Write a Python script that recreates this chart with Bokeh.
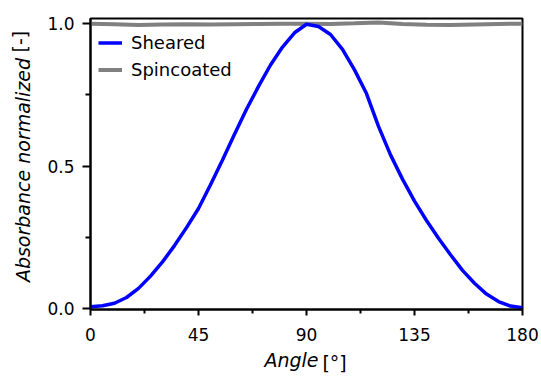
from bokeh.plotting import figure
from bokeh.models import (Range1d, Legend, LegendItem, LinearAxis, FixedTicker, ColumnDataSource,
                          CustomJSTickFormatter)
from bokeh.embed import file_html
from bokeh.resources import INLINE

# Normalized absorbance vs. polarizer angle
angle_sheared = [0, 5, 10, 15, 20, 25, 30, 35, 40, 45, 50, 55, 60, 65, 70, 75, 80, 85, 90,
                 95, 100, 105, 110, 115, 120, 125, 130, 135, 140, 145, 150, 155, 160, 165,
                 170, 175, 180]
absorb_sheared = [0.008, 0.011, 0.020, 0.040, 0.072, 0.115, 0.165, 0.222, 0.285, 0.352,
                  0.435, 0.522, 0.612, 0.700, 0.780, 0.855, 0.918, 0.968, 0.998,
                  0.990, 0.962, 0.910, 0.838, 0.755, 0.640, 0.540, 0.455, 0.378, 0.310,
                  0.248, 0.190, 0.135, 0.090, 0.052, 0.026, 0.010, 0.004]

angle_spin = [0, 10, 20, 30, 40, 50, 60, 70, 80, 90, 100, 110, 120, 130, 140, 150, 160, 170, 180]
absorb_spin = [1.000, 0.998, 0.995, 0.997, 0.998, 0.997, 0.998, 0.999, 1.000, 1.000,
               0.999, 1.001, 1.004, 0.999, 0.996, 0.995, 0.997, 0.999, 1.000]

x_ticks = [0, 45, 90, 135, 180]
y_ticks = [0.0, 0.5, 1.0]

FONT = "DejaVu Sans"

p = figure(width=541, height=376, output_backend="svg", toolbar_location=None,
           x_range=Range1d(0, 180), y_range=Range1d(-0.002, 1.018),
           min_border_left=90, min_border_right=19, min_border_top=18, min_border_bottom=66)
p.background_fill_color = "white"
p.border_fill_color = "white"
p.outline_line_color = "black"
p.outline_line_width = 2
p.xgrid.visible = False
p.ygrid.visible = False

src_spin = ColumnDataSource(dict(x=angle_spin, y=absorb_spin))
src_shear = ColumnDataSource(dict(x=angle_sheared, y=absorb_sheared))
r_spin = p.line("x", "y", source=src_spin, line_color="#808080", line_width=4)
r_shear = p.line("x", "y", source=src_shear, line_color="#0000ff", line_width=3.5)

# axes
for ax in (p.xaxis[0], p.yaxis[0]):
    ax.axis_line_color = "black"
    ax.axis_line_width = 2
    ax.major_tick_line_color = "black"
    ax.major_tick_line_width = 2
    ax.minor_tick_line_color = "black"
    ax.minor_tick_line_width = 2
    ax.major_tick_in = 0
    ax.minor_tick_in = 0
    ax.major_label_text_font = FONT
    ax.major_label_text_font_size = "17px"
    ax.major_label_text_color = "black"

p.xaxis.ticker = FixedTicker(ticks=x_ticks, minor_ticks=[22.5, 67.5, 112.5, 157.5])
p.xaxis.major_tick_out = 6
p.xaxis.minor_tick_out = 4
p.xaxis.major_label_standoff = 12

p.yaxis.ticker = FixedTicker(ticks=y_ticks, minor_ticks=[0.25, 0.75])
p.yaxis.major_tick_out = 8
p.yaxis.minor_tick_out = 5
p.yaxis.major_label_standoff = 8
p.yaxis.formatter = CustomJSTickFormatter(code="return tick.toFixed(1);")


# Axis titles: an italic quantity followed by an upright unit. Each part is a
# bare axis carrying one tick label, so both parts sit on the same line.
def title_axis(pos, text, italic, standoff, vertical=False):
    ax = LinearAxis(ticker=FixedTicker(ticks=[pos], minor_ticks=[]),
                    formatter=CustomJSTickFormatter(code="return %r;" % text))
    ax.axis_line_color = None
    ax.major_tick_line_color = None
    ax.minor_tick_line_color = None
    ax.major_tick_out = 0
    ax.major_tick_in = 0
    ax.minor_tick_out = 0
    ax.minor_tick_in = 0
    ax.major_label_standoff = standoff
    ax.major_label_text_font = FONT
    ax.major_label_text_font_size = "19px"
    ax.major_label_text_font_style = "italic" if italic else "normal"
    ax.major_label_text_color = "black"
    if vertical:
        ax.major_label_orientation = "vertical"
    return ax


p.add_layout(title_axis(83.75, "Angle", True, 5), "below")
p.add_layout(title_axis(101.7, "[°]", False, -22), "below")
p.add_layout(title_axis(0.487, "Absorbance normalized", True, 10, vertical=True), "left")
p.add_layout(title_axis(0.937, "[-]", False, -22, vertical=True), "left")

legend = Legend(items=[LegendItem(label="Sheared", renderers=[r_shear]),
                       LegendItem(label="Spincoated", renderers=[r_spin])],
                location=(8, 226))
legend.label_text_font = FONT
legend.label_text_font_size = "18px"
legend.label_text_color = "black"
legend.border_line_color = None
legend.background_fill_alpha = 0
legend.glyph_width = 24
legend.glyph_height = 27
legend.label_height = 27
legend.label_standoff = 9
legend.spacing = 0
legend.margin = 0
legend.padding = 0
p.add_layout(legend)

open("out.html", "w").write(file_html(p, INLINE))
